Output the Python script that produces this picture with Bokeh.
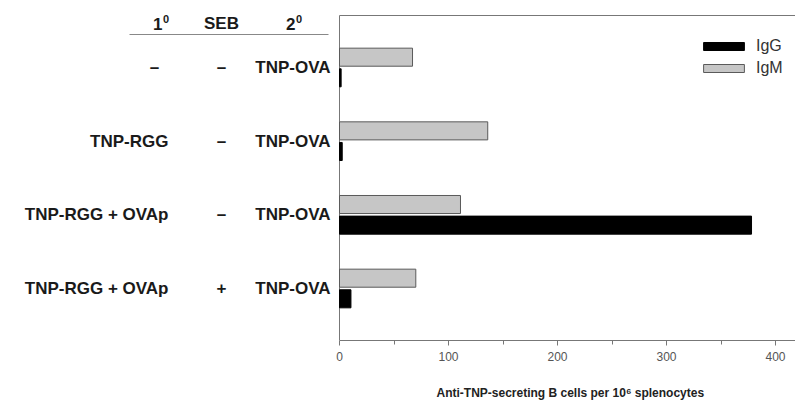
from bokeh.plotting import figure
from bokeh.models import Range1d, Legend, LegendItem, FixedTicker, Title
from bokeh.core.properties import value
from bokeh.embed import file_html
from bokeh.resources import INLINE

# ---- data ----
primary = ["–", "TNP-RGG", "TNP-RGG + OVAp", "TNP-RGG + OVAp"]
seb = ["–", "–", "–", "+"]
secondary = ["TNP-OVA", "TNP-OVA", "TNP-OVA", "TNP-OVA"]
rows = [1, 2, 3, 4]
igm = [67, 136, 111, 70]
igg = [1.5, 2.5, 378, 10.5]
x_ticks = [0, 100, 200, 300, 400]
x_minor = [50, 150, 250, 350]
header = ["1", "SEB", "2"]
x_title = "Anti-TNP-secreting B cells per 10⁶ splenocytes"

# ---- layout constants ----
FONT = "Liberation Sans"
W, H = 795, 405
FRAME_LEFT, FRAME_TOP, FRAME_BOTTOM = 339, 15, 340
PX_X = 1.09
X_MAX = (W - FRAME_LEFT) / PX_X
X_MIN = -FRAME_LEFT / PX_X
Y_TOP, Y_BOT = 0.294, 4.706
PX_Y = (FRAME_BOTTOM - FRAME_TOP) / (Y_BOT - Y_TOP)


def xd(px):
    return (px - FRAME_LEFT) / PX_X


def yd(py):
    return Y_TOP + (py - FRAME_TOP) / PX_Y


p = figure(width=W, height=H, x_range=Range1d(X_MIN, X_MAX), y_range=Range1d(Y_BOT, yd(0)),
           min_border_left=0, min_border_right=0, min_border_top=0,
           min_border_bottom=H - FRAME_BOTTOM, outline_line_color=None, toolbar_location=None,
           output_backend="svg", y_axis_location=None)
p.xgrid.visible = False
p.ygrid.visible = False

# plot box borders (left and top)
p.segment(x0=[0, 0], y0=[Y_TOP, Y_TOP], x1=[0, X_MAX], y1=[Y_BOT, Y_TOP],
          line_color="#777777", line_width=1)

off = 0.14
bh = 0.245
r_igm = p.hbar(y=[r - off for r in rows], left=0, right=igm, height=bh,
               fill_color="#c6c6c6", line_color="#5a5a5a", line_width=1)
r_igg = p.hbar(y=[r + off for r in rows], left=0, right=igg, height=bh,
               fill_color="#000000", line_color="#000000", line_width=1)

ax = p.xaxis[0]
ax.bounds = (0, X_MAX)
ax.ticker = FixedTicker(ticks=x_ticks, minor_ticks=x_minor)
ax.axis_line_color = "#777777"
ax.major_tick_line_color = "#777777"
ax.minor_tick_line_color = "#777777"
ax.major_tick_in = 0
ax.major_tick_out = 5
ax.minor_tick_in = 0
ax.minor_tick_out = 4
ax.major_label_text_font = FONT
ax.major_label_text_font_size = "12px"
ax.major_label_text_color = "#555555"
ax.major_label_standoff = 6
# blank spacer label to push the title (below) down
ax.axis_label = " "
ax.axis_label_text_font_size = "2px"
ax.axis_label_standoff = 11

p.add_layout(Title(text=x_title, align="left", offset=436,
                   text_font=FONT, text_font_size="12px", text_font_style="bold",
                   text_color="#222222", standoff=9), "below")

legend = Legend(items=[LegendItem(label="IgG", renderers=[r_igg]),
                       LegendItem(label="IgM", renderers=[r_igm])],
                location=(698, 262), padding=2, spacing=2, border_line_color=None,
                background_fill_alpha=0, glyph_width=51, glyph_height=10,
                label_standoff=7, label_height=20, label_text_font=FONT,
                label_text_font_size="16px", label_text_color="#333333")
p.add_layout(legend)

# ---- left text table ----
TXT = dict(text_font=value(FONT), text_font_size="17px", text_font_style="bold",
           text_color="#1a1a1a", text_baseline="middle")
SUP = dict(text_font=value(FONT), text_font_size="11px", text_font_style="bold",
           text_color="#1a1a1a", text_baseline="middle", text_align="left")

hy = yd(23)
p.text(x=[xd(162), xd(295)], y=[hy, hy], text=[header[0], header[2]], text_align="right", **TXT)
p.text(x=[xd(162.5), xd(295.5)], y=[yd(18), yd(18)], text=["0", "0"], **SUP)
p.text(x=[xd(221)], y=[hy], text=[header[1]], text_align="center", **TXT)
p.segment(x0=[xd(129)], y0=[yd(34)], x1=[xd(328)], y1=[yd(34)], line_color="#888888", line_width=1)

dash_rows = [r for r, s in zip(rows, primary) if s == "–"]
name_rows = [r for r, s in zip(rows, primary) if s != "–"]
names = [s for s in primary if s != "–"]
p.text(x=[xd(154)] * len(dash_rows), y=dash_rows, text=["–"] * len(dash_rows), text_align="center", **TXT)
p.text(x=[xd(168)] * len(name_rows), y=name_rows, text=names, text_align="right", **TXT)
p.text(x=[xd(221)] * len(rows), y=rows, text=seb, text_align="center", **TXT)
p.text(x=[xd(330)] * len(rows), y=rows, text=secondary, text_align="right", **TXT)

open("out.html", "w").write(file_html(p, INLINE))
